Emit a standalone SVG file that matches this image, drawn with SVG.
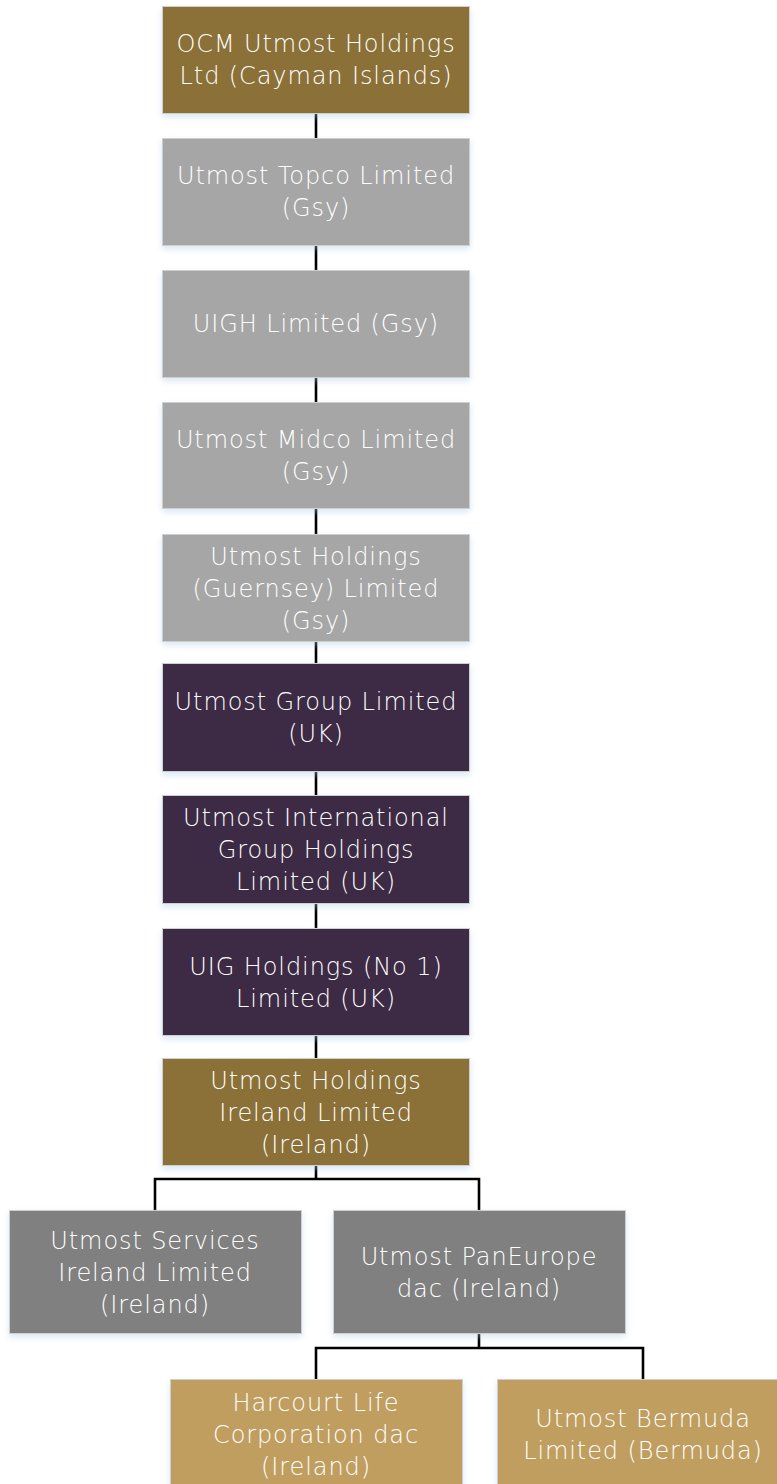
<svg xmlns="http://www.w3.org/2000/svg" width="777" height="1484" viewBox="0 0 777 1484">
<style>
.box{stroke:#cfcfcf;stroke-width:1;filter:url(#sh)}
.t{font-family:"DejaVu Sans","Liberation Sans",sans-serif;font-weight:200;font-size:24px;letter-spacing:0.9px;fill:#ffffff;text-anchor:middle}
.brown{fill:#8b7138}
.grey{fill:#a6a6a6}
.purple{fill:#3d2a44}
.dgrey{fill:#808080}
.gold{fill:#c09e5f}
.c{stroke:#000;stroke-width:2.6;fill:none}
</style>
<defs>
<filter id="sh" x="-10%" y="-10%" width="120%" height="130%">
<feDropShadow dx="0" dy="3" stdDeviation="3" flood-color="#a9cbe8" flood-opacity="0.45"/>
</filter>
</defs>
<rect width="777" height="1484" fill="#ffffff"/>
<g id="connectors">
<path class="c" d="M316 113V138M316 245V270M316 377V402M316 508V534M316 641V663M316 771V795M316 903V928M316 1035V1058"/>
<path class="c" d="M316 1165V1179M155 1210V1179H479V1210"/>
<path class="c" d="M479 1333V1348M316 1379V1348H643V1379"/>
</g>
<g id="n1"><rect class="box brown" x="162.5" y="6.5" width="307" height="107"/>
<text class="t" x="316" y="52">OCM Utmost Holdings</text><text class="t" x="316" y="84">Ltd (Cayman Islands)</text></g>
<g id="n2"><rect class="box grey" x="162.5" y="138.5" width="307" height="107"/>
<text class="t" x="316" y="184">Utmost Topco Limited</text><text class="t" x="316" y="216">(Gsy)</text></g>
<g id="n3"><rect class="box grey" x="162.5" y="270.5" width="307" height="107"/>
<text class="t" x="316" y="332">UIGH Limited (Gsy)</text></g>
<g id="n4"><rect class="box grey" x="162.5" y="402.5" width="307" height="106"/>
<text class="t" x="316" y="448">Utmost Midco Limited</text><text class="t" x="316" y="480">(Gsy)</text></g>
<g id="n5"><rect class="box grey" x="162.5" y="534.5" width="307" height="107"/>
<text class="t" x="316" y="565">Utmost Holdings</text><text class="t" x="316" y="597">(Guernsey) Limited</text><text class="t" x="316" y="629">(Gsy)</text></g>
<g id="n6"><rect class="box purple" x="162.5" y="663.5" width="307" height="108"/>
<text class="t" x="316" y="710">Utmost Group Limited</text><text class="t" x="316" y="742">(UK)</text></g>
<g id="n7"><rect class="box purple" x="162.5" y="795.5" width="307" height="108"/>
<text class="t" x="316" y="826">Utmost International</text><text class="t" x="316" y="858">Group Holdings</text><text class="t" x="316" y="890">Limited (UK)</text></g>
<g id="n8"><rect class="box purple" x="162.5" y="928.5" width="307" height="107"/>
<text class="t" x="316" y="975">UIG Holdings (No 1)</text><text class="t" x="316" y="1007">Limited (UK)</text></g>
<g id="n9"><rect class="box brown" x="162.5" y="1058.5" width="307" height="107"/>
<text class="t" x="316" y="1089">Utmost Holdings</text><text class="t" x="316" y="1121">Ireland Limited</text><text class="t" x="316" y="1153">(Ireland)</text></g>
<g id="n10"><rect class="box dgrey" x="9.5" y="1210.5" width="292" height="123"/>
<text class="t" x="155" y="1249">Utmost Services</text><text class="t" x="155" y="1281">Ireland Limited</text><text class="t" x="155" y="1313">(Ireland)</text></g>
<g id="n11"><rect class="box dgrey" x="333.5" y="1210.5" width="292" height="123"/>
<text class="t" x="479" y="1265">Utmost PanEurope</text><text class="t" x="479" y="1297">dac (Ireland)</text></g>
<g id="n12"><rect class="box gold" x="170.5" y="1379.5" width="292" height="120"/>
<text class="t" x="316" y="1411">Harcourt Life</text><text class="t" x="316" y="1443">Corporation dac</text><text class="t" x="316" y="1475">(Ireland)</text></g>
<g id="n13"><rect class="box gold" x="497.5" y="1379.5" width="292" height="120"/>
<text class="t" x="643" y="1427">Utmost Bermuda</text><text class="t" x="643" y="1459">Limited (Bermuda)</text></g>
</svg>
